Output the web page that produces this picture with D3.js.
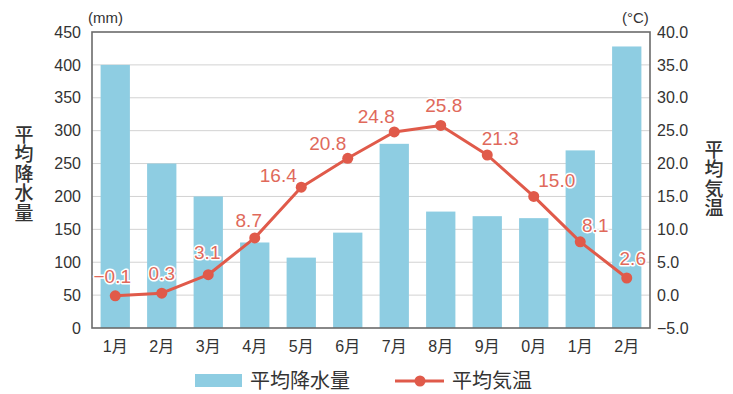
<!DOCTYPE html>
<html>
<head>
<meta charset="utf-8">
<script src="https://cdn.jsdelivr.net/npm/d3@7"></script>
<style>
  html, body { margin: 0; padding: 0; background: #fff; }
  svg { display: block; }
  text { font-family: "Liberation Sans", Arial, "Noto Sans CJK JP", sans-serif; }
  .jp { font-family: "Noto Sans CJK JP", sans-serif; }
  .vert { writing-mode: vertical-rl; text-orientation: upright; }
</style>
</head>
<body>
<svg id="chart" width="733" height="394"></svg>
<script>
// Monthly climate: average precipitation (bars) and average temperature (line)
const months = ["1月", "2月", "3月", "4月", "5月", "6月", "7月", "8月", "9月", "0月", "1月", "2月"];
const precipitation = [400, 250, 200, 130, 107, 145, 280, 177, 170, 167, 270, 428];
const temperature = [-0.1, 0.3, 3.1, 8.7, 16.4, 20.8, 24.8, 25.8, 21.3, 15.0, 8.1, 2.6];
const precipTicks = [0, 50, 100, 150, 200, 250, 300, 350, 400, 450];
const tempTicks = [-5, 0, 5, 10, 15, 20, 25, 30, 35, 40];

// Small nudges [dx, dy] so value labels sit clear of the line
const labelNudge = [[-3, -13], [0, -13], [-1, -16], [-6, -11], [-23, -5], [-20, -8],
                    [-18, -9], [3, -13], [13, -10], [23, -9], [15, -10], [6, -13]];

const colors = { bar: "#8ecde2", line: "#e05a4a", label: "#e0695b", grid: "#d2d2d2", frame: "#6b6b6b", text: "#333" };

const svg = d3.select("#chart");
const m = { left: 92, right: 650, top: 32, bottom: 328 };

const x = d3.scaleBand().domain(d3.range(months.length))
  .range([m.left, m.right]).paddingInner(0.37).paddingOuter(0.185);
const yL = d3.scaleLinear().domain([0, 450]).range([m.bottom, m.top]);
const yR = d3.scaleLinear().domain([-5, 40]).range([m.bottom, m.top]);

// horizontal grid
svg.append("g").selectAll("line").data(precipTicks.slice(1, -1)).join("line")
  .attr("x1", m.left).attr("x2", m.right)
  .attr("y1", d => yL(d)).attr("y2", d => yL(d))
  .attr("stroke", colors.grid).attr("stroke-width", 1);

// precipitation bars
svg.append("g").selectAll("rect").data(precipitation).join("rect")
  .attr("x", (d, i) => x(i)).attr("width", x.bandwidth())
  .attr("y", d => yL(d)).attr("height", d => yL(0) - yL(d))
  .attr("fill", colors.bar);

// plot frame
svg.append("rect")
  .attr("x", m.left).attr("y", m.top)
  .attr("width", m.right - m.left).attr("height", m.bottom - m.top)
  .attr("fill", "none").attr("stroke", colors.frame).attr("stroke-width", 1.6);

// left axis
const axL = svg.append("g").attr("transform", `translate(${m.left},0)`)
  .call(d3.axisLeft(yL).tickValues(precipTicks).tickSize(0).tickPadding(11));
axL.select(".domain").remove();
axL.selectAll("text").attr("font-size", 16).attr("fill", colors.text)
  .style("font-family", '"Liberation Sans", Arial, sans-serif');

// right axis
const axR = svg.append("g").attr("transform", `translate(${m.right},0)`)
  .call(d3.axisRight(yR).tickValues(tempTicks).tickSize(0).tickPadding(7)
    .tickFormat(d => (d < 0 ? "\u2212" : "") + Math.abs(d).toFixed(1)));
axR.select(".domain").remove();
axR.selectAll("text").attr("font-size", 16).attr("fill", colors.text)
  .style("font-family", '"Liberation Sans", Arial, sans-serif');

// month labels
const axB = svg.append("g").attr("transform", `translate(0,${m.bottom})`)
  .call(d3.axisBottom(x).tickSize(0).tickPadding(13).tickFormat(i => months[i]));
axB.select(".domain").remove();
axB.selectAll("text").attr("font-size", 16).attr("fill", colors.text)
  .style("font-family", '"Liberation Sans", Arial, "Noto Sans CJK JP", sans-serif');

// unit captions
svg.append("text").attr("x", 88).attr("y", 23).attr("font-size", 15)
  .attr("fill", colors.text).text("(mm)");
svg.append("text").attr("x", 622).attr("y", 23).attr("font-size", 15)
  .attr("fill", colors.text).text("(°C)");

// vertical axis titles, one character per line
function verticalTitle(str, cx, top) {
  svg.append("text").attr("class", "jp vert")
    .attr("x", cx).attr("y", top)
    .attr("font-size", 19).attr("font-weight", 500)
    .attr("letter-spacing", 0.5)
    .attr("fill", colors.text).text(str);
}
verticalTitle("平均降水量", 24, 125);
verticalTitle("平均気温", 714, 140);

// temperature line
const cx = i => x(i) + x.bandwidth() / 2;
svg.append("path").datum(temperature)
  .attr("d", d3.line().x((d, i) => cx(i)).y(d => yR(d)))
  .attr("fill", "none").attr("stroke", colors.line).attr("stroke-width", 3)
  .attr("stroke-linejoin", "round");

svg.append("g").selectAll("circle").data(temperature).join("circle")
  .attr("cx", (d, i) => cx(i)).attr("cy", d => yR(d)).attr("r", 5.5)
  .attr("fill", colors.line);

// value labels
svg.append("g").selectAll("text").data(temperature).join("text")
  .attr("x", (d, i) => cx(i) + labelNudge[i][0])
  .attr("y", (d, i) => yR(d) + labelNudge[i][1])
  .attr("text-anchor", "middle").attr("font-size", 19)
  .attr("fill", colors.label)
  .attr("stroke", "#fff").attr("stroke-width", 3).attr("paint-order", "stroke")
  .attr("stroke-linejoin", "round")
  .text(d => (d < 0 ? "\u2212" : "") + Math.abs(d).toFixed(1));

// legend
const lg = svg.append("g");
lg.append("rect").attr("x", 195).attr("y", 374).attr("width", 47).attr("height", 13)
  .attr("fill", colors.bar);
lg.append("text").attr("class", "jp").attr("x", 250).attr("y", 388).attr("font-size", 20)
  .attr("fill", colors.text).text("平均降水量");
lg.append("line").attr("x1", 395).attr("x2", 444).attr("y1", 381).attr("y2", 381)
  .attr("stroke", colors.line).attr("stroke-width", 3);
lg.append("circle").attr("cx", 420).attr("cy", 381).attr("r", 5.5).attr("fill", colors.line);
lg.append("text").attr("class", "jp").attr("x", 452).attr("y", 388).attr("font-size", 20)
  .attr("fill", colors.text).text("平均気温");
</script>
</body>
</html>
